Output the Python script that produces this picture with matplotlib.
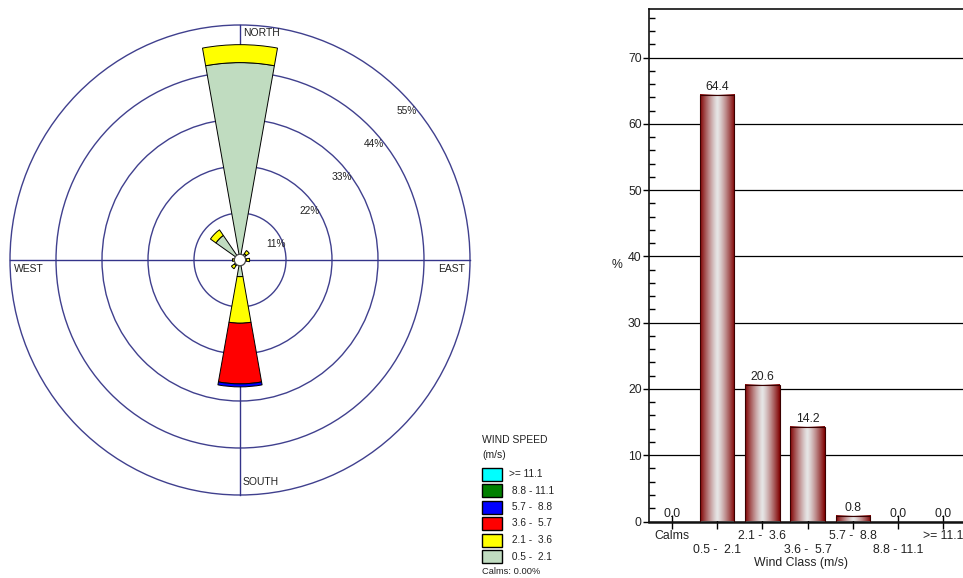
import numpy as np
import matplotlib
matplotlib.use("Agg")
import matplotlib.pyplot as plt
from matplotlib.patches import Wedge, Circle, Rectangle
from matplotlib.colors import to_rgb
from matplotlib.ticker import MultipleLocator

plt.rcParams['font.family'] = ['Liberation Sans', 'DejaVu Sans']

# ---------------------------------------------------------------- data
directions = [0.0, 22.5, 45.0, 67.5, 90.0, 112.5, 135.0, 157.5,
              180.0, 202.5, 225.0, 247.5, 270.0, 292.5, 315.0, 337.5]
speed_classes = ['0.5 -  2.1', '2.1 -  3.6', '3.6 -  5.7',
                 '5.7 -  8.8', '8.8 - 11.1', '>= 11.1']
class_colors = ['#C0DCC0', '#FFFF00', '#FF0000', '#0000FF', '#008000', '#00FFFF']

# frequency (%) by direction (N, NNE, ... NNW) for each wind class
freq_05_21 = [46.2, 0.13, 1.8, 0.13, 1.5, 0.13, 0.13, 0.13,
              3.9, 0.13, 1.6, 0.13, 1.2, 0.13, 7.0, 0.13]
freq_21_36 = [4.2, 0.0, 0.9, 0.0, 0.8, 0.0, 0.0, 0.0,
              10.9, 0.0, 0.9, 0.0, 0.6, 0.0, 1.6, 0.0]
freq_36_57 = [0.0, 0.0, 0.0, 0.0, 0.0, 0.0, 0.0, 0.0,
              14.2, 0.0, 0.0, 0.0, 0.0, 0.0, 0.0, 0.0]
freq_57_88 = [0.0, 0.0, 0.0, 0.0, 0.0, 0.0, 0.0, 0.0,
              0.7, 0.0, 0.0, 0.0, 0.0, 0.0, 0.0, 0.0]
freq_88_111 = [0.0] * 16
freq_111 = [0.0] * 16
rose_freqs = [freq_05_21, freq_21_36, freq_36_57, freq_57_88, freq_88_111, freq_111]

ring_levels = [11, 22, 33, 44, 55]

bar_categories = ['Calms', '0.5 -  2.1', '2.1 -  3.6', '3.6 -  5.7',
                  '5.7 -  8.8', '8.8 - 11.1', '>= 11.1']
bar_values = [0.0, 64.4, 20.6, 14.2, 0.8, 0.0, 0.0]
calms_pct = 0.00

# ---------------------------------------------------------------- figure
W, H = 963, 578
fig = plt.figure(figsize=(W / 100, H / 100), dpi=100)
fig.patch.set_facecolor('white')

TXT = '#222222'
RING = '#40408e'
AXL = '#34348a'

# pixel overlay for free-standing legend text
pix = fig.add_axes([0, 0, 1, 1])
pix.set_xlim(0, W)
pix.set_ylim(H, 0)
pix.axis('off')
pix.patch.set_visible(False)

# ---------------------------------------------------------------- wind rose
cx, cy = 240, 260          # centre in pixels (from top-left)
sx, sy = 230 / 55, 235 / 55  # pixels per percent
left_px, right_px, top_px, bot_px = 0, 480, 10, 510
rose = fig.add_axes([left_px / W, (H - bot_px) / H,
                     (right_px - left_px) / W, (bot_px - top_px) / H])
rose.set_xlim((left_px - cx) / sx, (right_px - cx) / sx)
rose.set_ylim((cy - bot_px) / sy, (cy - top_px) / sy)
rose.axis('off')

rmax = ring_levels[-1]
for r in ring_levels:
    rose.add_patch(Circle((0, 0), r, fill=False, ec=RING, lw=1.0, zorder=1))
rose.plot([-rmax, rmax], [0, 0], color=AXL, lw=1.0, zorder=1)
rose.plot([0, 0], [-rmax, rmax], color=AXL, lw=1.0, zorder=1)

half = 10.25
for k, b in enumerate(directions):
    base = 0.0
    for vals, col in zip(rose_freqs, class_colors):
        v = vals[k]
        if v <= 0:
            continue
        top = base + v
        rose.add_patch(Wedge((0, 0), top, 90 - b - half, 90 - b + half,
                             width=v, fc=col, ec='black', lw=0.7, zorder=3))
        base = top

rose.add_patch(Circle((0, 0), 1.35, fc='white', ec='#444444', lw=0.9, zorder=5))

for r in ring_levels:
    px = r * np.cos(np.pi / 4) - 6 / sx
    py = r * np.sin(np.pi / 4) - 12 / sy
    rose.text(px, py, f'{r}%', ha='left', va='top', fontsize=7.3,
              color=TXT, zorder=6)

rose.text(3 / sx, (cy - 33) / sy, 'NORTH', ha='left', va='center', fontsize=7.5, color=TXT)
rose.text(3 / sx, (cy - 482) / sy, 'SOUTH', ha='left', va='center', fontsize=7.5, color=TXT)
rose.text((14 - cx) / sx, (cy - 269) / sy, 'WEST', ha='left', va='center', fontsize=7.5, color=TXT)
rose.text((438 - cx) / sx, (cy - 269) / sy, 'EAST', ha='left', va='center', fontsize=7.5, color=TXT)

# ---------------------------------------------------------------- legend
pix.text(482, 440, 'WIND SPEED', ha='left', va='center', fontsize=7.5, color=TXT)
pix.text(482, 455, '(m/s)', ha='left', va='center', fontsize=7.5, color=TXT)
leg_y0, leg_dy = 474, 16.5
for i, (lab, col) in enumerate(zip(reversed(speed_classes), reversed(class_colors))):
    yc = leg_y0 + i * leg_dy
    pix.add_patch(Rectangle((482, yc - 6.5), 20, 13, fc=col, ec='black', lw=1.0))
    shown = lab if lab.startswith('>=') else ' ' + lab
    pix.text(509, yc, shown, ha='left', va='center', fontsize=7.3, color=TXT)
pix.text(482, 572, f'Calms: {calms_pct:.2f}%', ha='left', va='center', fontsize=6.7, color=TXT)

# ---------------------------------------------------------------- bar chart
ax_l, ax_r, ax_t, ax_b = 649.3, 966.0, 9.3, 521.5
bx = fig.add_axes([ax_l / W, (H - ax_b) / H, (ax_r - ax_l) / W, (ax_b - ax_t) / H])
n = len(bar_categories)
ymax = max(bar_values) * 1.2
bx.set_xlim(-0.5, n - 0.5)
bx.set_ylim(0, ymax)

for s in ['left', 'top', 'bottom', 'right']:
    bx.spines[s].set_color('#111111')
bx.spines['left'].set_linewidth(1.2)
bx.spines['top'].set_linewidth(1.2)
bx.spines['bottom'].set_linewidth(1.8)
bx.spines['right'].set_visible(False)

bx.yaxis.set_major_locator(MultipleLocator(10))
bx.yaxis.set_minor_locator(MultipleLocator(2))
bx.grid(axis='y', which='major', color='black', lw=0.9)
bx.set_axisbelow(True)
bx.tick_params(axis='y', which='major', direction='out', length=4.5, width=1,
               labelsize=8.8, labelcolor=TXT, pad=1)
bx.tick_params(axis='y', which='minor', direction='in', length=4, width=1)
bx.set_xticks(range(n))
bx.set_xticklabels([])
bx.tick_params(axis='x', which='major', direction='inout', length=10, width=1)

dark = np.array(to_rgb('#800000'))
light = np.array(to_rgb('#e6e6e6'))
tprof = np.linspace(-1, 1, 200)
f = np.abs(tprof) ** 1.25
grad = (light[None, :] * (1 - f[:, None]) + dark[None, :] * f[:, None])[None, :, :]

bw = 0.76
for i, v in enumerate(bar_values):
    if v > 0:
        bx.imshow(grad, extent=[i - bw / 2, i + bw / 2, 0, v], aspect='auto',
                  interpolation='bilinear', zorder=2)
        bx.add_patch(Rectangle((i - bw / 2, 0), bw, v, fill=False,
                               ec='#3a0000', lw=0.8, zorder=3))
    bx.text(i, v + 0.3, f'{v:.1f}', ha='center', va='bottom', fontsize=8.8,
            color=TXT, zorder=4)
bx.set_xlim(-0.5, n - 0.5)
bx.set_ylim(0, ymax)

xtr = bx.get_xaxis_transform()
for i, lab in enumerate(bar_categories):
    yrow = -0.029 if i % 2 == 0 else -0.055
    bx.text(i, yrow, lab, transform=xtr, ha='center', va='center',
            fontsize=8.8, color=TXT)
bx.text(0.478, -0.081, 'Wind Class (m/s)', transform=bx.transAxes,
        ha='center', va='center', fontsize=8.8, color=TXT)
pix.text(617, 265, '%', ha='center', va='center', fontsize=8.8, color=TXT)

fig.savefig('out.png', dpi=100, facecolor='white')
